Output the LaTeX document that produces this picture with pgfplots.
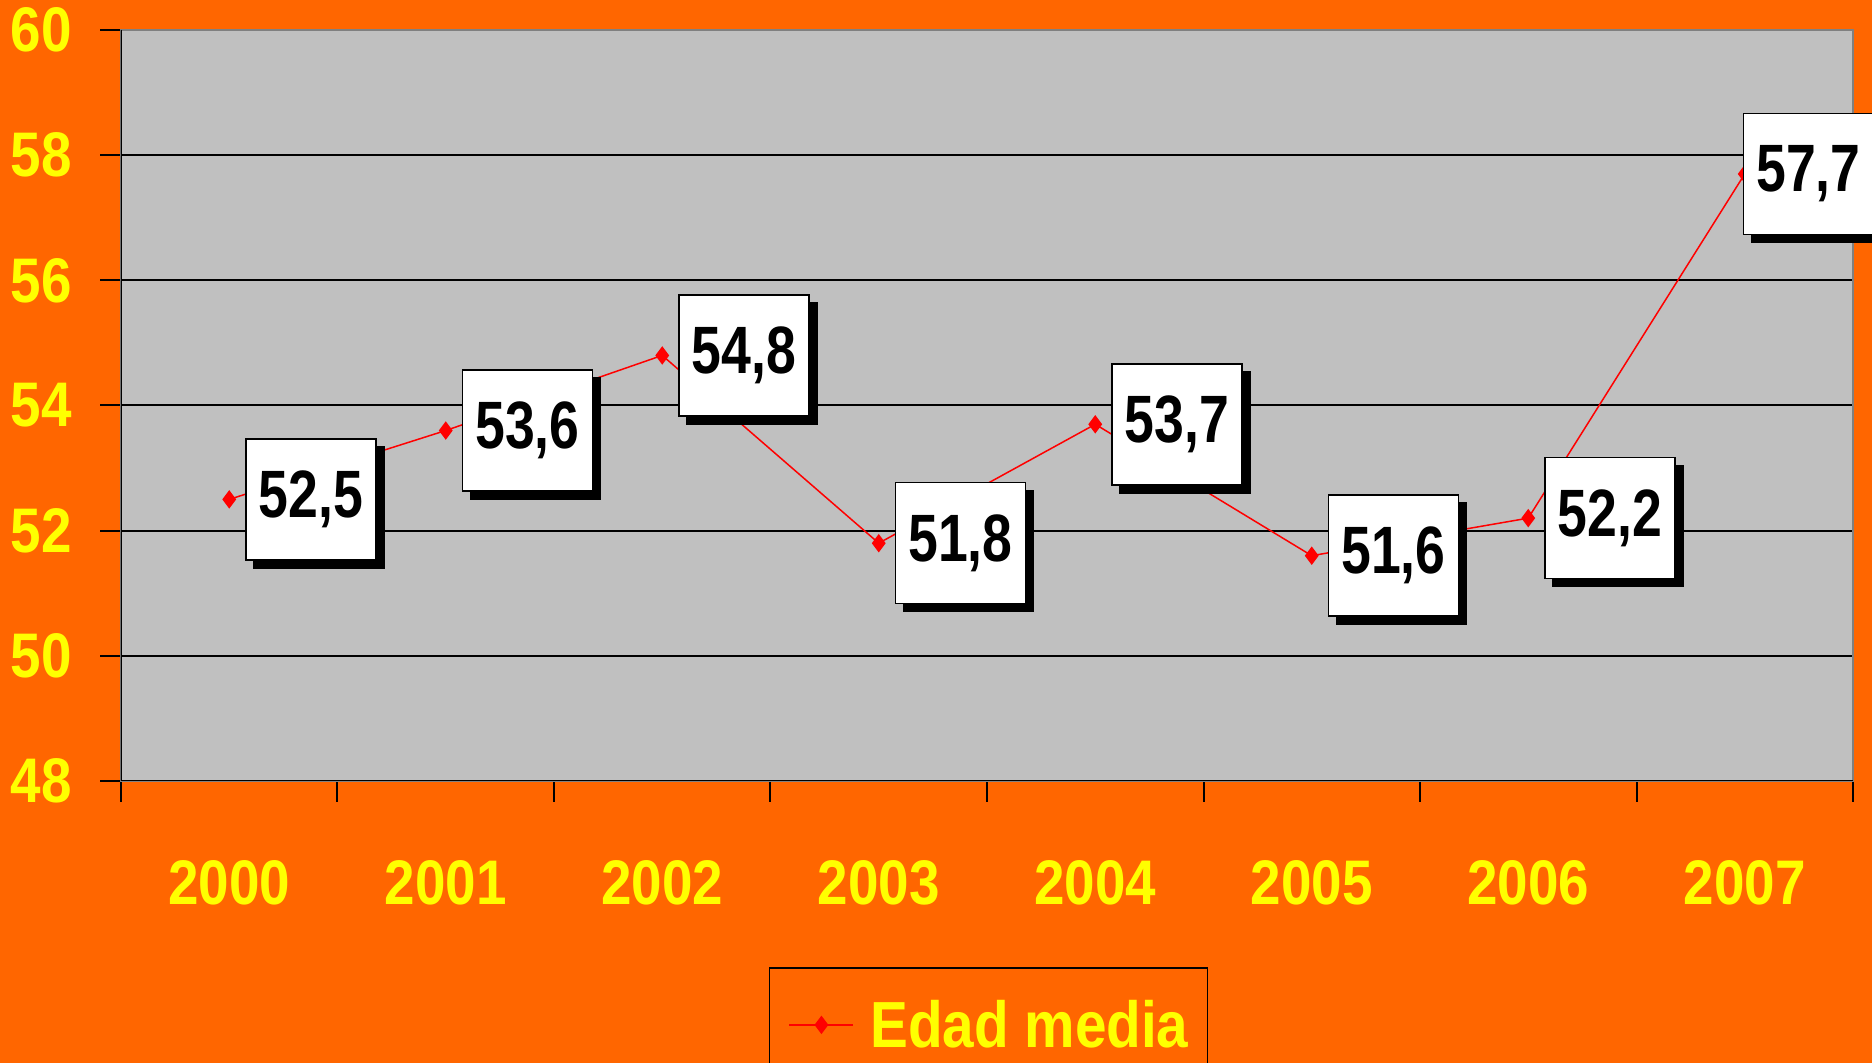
\documentclass[border=0pt]{standalone}
\usepackage{fontspec}
\usepackage{pgfplots}
\pgfplotsset{compat=1.18}
\usetikzlibrary{shadows}
\setmainfont{Liberation Sans}
\newfontfamily\tickf{Liberation Sans}[FakeStretch=0.87]
\newfontfamily\labf{Liberation Sans}[FakeStretch=0.80]
\definecolor{bgorange}{HTML}{FF6600}
\definecolor{plotgray}{HTML}{C0C0C0}
\definecolor{tickyellow}{HTML}{FFFF00}
\definecolor{bordergray}{HTML}{808080}
\begin{document}
\begin{tikzpicture}
\fill[bgorange] (-60.5pt,-141pt) rectangle (875.5pt,390.5pt);
\begin{axis}[
  at={(0pt,0pt)}, anchor=south west,
  scale only axis, width=866pt, height=375.5pt,
  xmin=1999.5, xmax=2007.5, ymin=48, ymax=60,
  ytick={48,50,...,60},
  xtick={1999.5,2000.5,...,2007.5},
  x tick label as interval,
  xticklabels={2000,2001,2002,2003,2004,2005,2006,2007},
  tick pos=left,
  tick align=outside,
  major tick length=10.5pt,
  tick style={black, line width=1pt},
  axis line style={bordergray, line width=1pt},
  axis background/.style={fill=plotgray},
  ymajorgrids,
  major grid style={black, line width=1pt},
  /pgf/number format/assume math mode=true,
  ticklabel style={font=\tickf\bfseries\fontsize{31.5pt}{36pt}\selectfont, text=tickyellow, inner sep=0pt},
  yticklabel style={anchor=east, xshift=-14pt},
  xticklabel style={anchor=north, yshift=-29pt},
  legend style={at={(0.3741,-0.2477)}, anchor=north west, draw=black, line width=0.75pt,
    fill=bgorange, text=tickyellow,
    font=\tickf\bfseries\fontsize{32.6pt}{38pt}\selectfont,
    inner xsep=9.5pt, inner ysep=16pt, column sep=8pt, nodes={inner sep=0pt}},
  legend image code/.code={\draw[mark repeat=2,mark phase=2,#1] plot coordinates {(0pt,0pt) (16pt,0pt) (32pt,0pt)};},
  nodes near coords={\pgfmathprintnumber[assume math mode=true,use comma,fixed,precision=1,fixed zerofill]{\pgfplotspointmeta}},
  every node near coord/.style={fill=white, draw=black, line width=0.75pt,
    minimum width=65pt, minimum height=60.5pt, inner sep=0pt, anchor=west, xshift=8pt,
    text=black, font=\labf\bfseries\fontsize{33.5pt}{38pt}\selectfont,
    drop shadow={shadow xshift=4pt, shadow yshift=-4pt, fill=black, opacity=1}},
  coordinate style/.condition={x>2006.5}{xshift=-9pt},
]
\addplot[red, line width=0.75pt, mark=diamond*, mark size=4pt, mark options={solid, fill=red}]
  coordinates {(2000,52.5) (2001,53.6) (2002,54.8) (2003,51.8) (2004,53.7) (2005,51.6) (2006,52.2) (2007,57.7)};
\addlegendentry{Edad media}
\draw[black, line width=1pt] (rel axis cs:0,1) -- (rel axis cs:0,0) -- (rel axis cs:1,0);
\end{axis}
\pgfresetboundingbox
\useasboundingbox (-60.5pt,-141pt) rectangle (875.5pt,390.5pt);
\end{tikzpicture}
\end{document}
